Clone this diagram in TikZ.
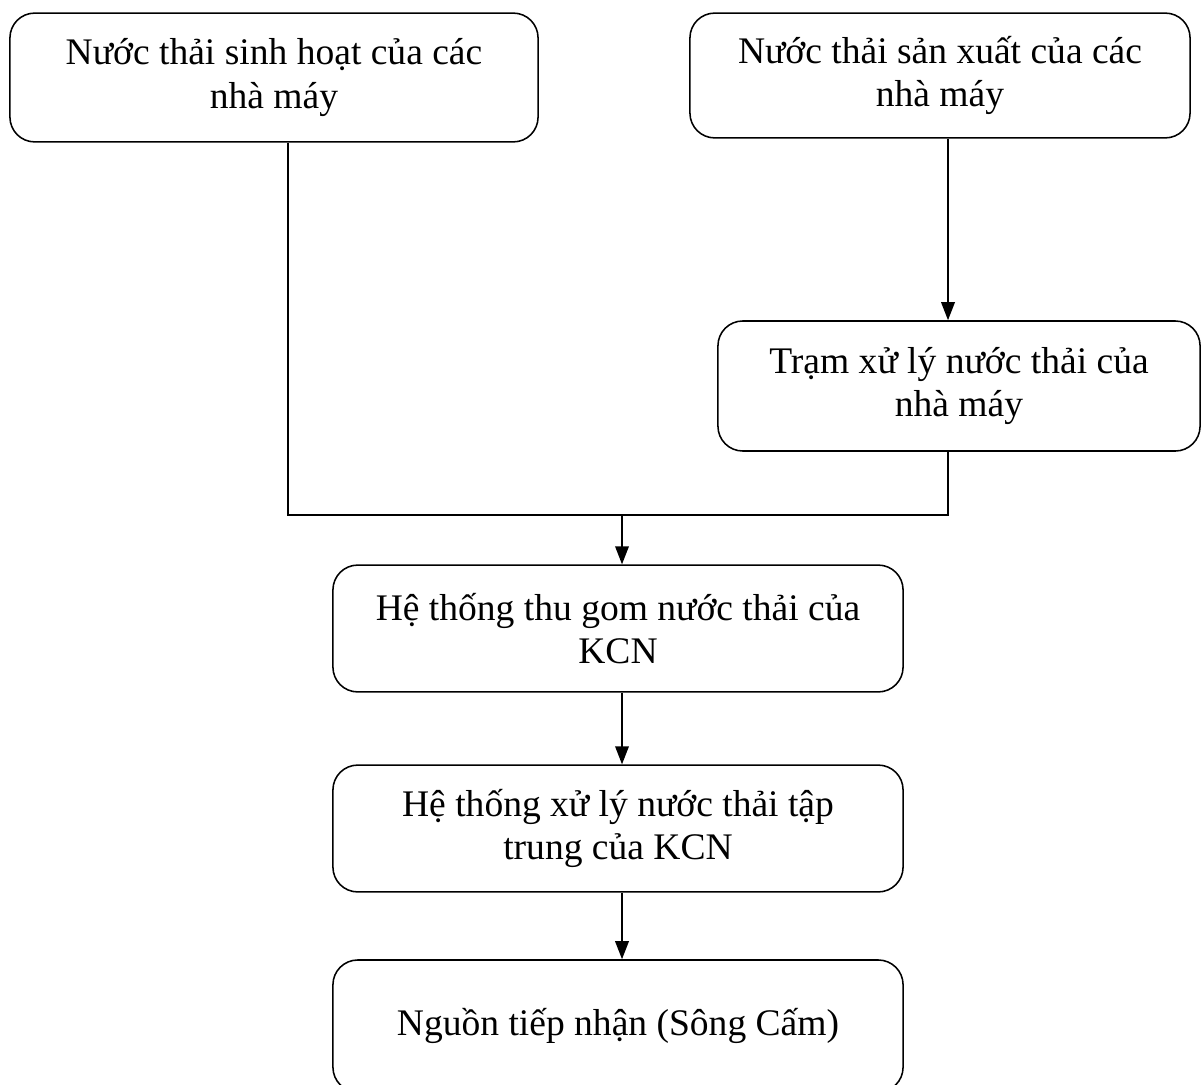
\documentclass[tikz,border=0pt]{standalone}
\usepackage{fontspec}
\setmainfont{Liberation Serif}
\usetikzlibrary{arrows.meta}

\tikzset{
  flowbox/.style={draw, rounded corners=0.62cm, align=center, line width=1.1pt,
    inner sep=0pt, font=\fontsize{26.7}{30.6}\selectfont},
  flowline/.style={line width=1.1pt},
  flowarrow/.style={flowline, -{Triangle[length=0.45cm,width=0.34cm]}}
}

\begin{document}
\begin{tikzpicture}[x=0.025cm,y=-0.025cm]
  \useasboundingbox (0,0) rectangle (1201,1084);
  % sources
  \node[flowbox, minimum width=13.2cm, minimum height=3.22cm] (sinhhoat) at (274,77.5)
    {Nước thải sinh hoạt của các\\nhà máy};
  \node[flowbox, minimum width=12.5cm, minimum height=3.12cm] (sanxuat) at (940,75.5)
    {Nước thải sản xuất của các\\nhà máy};
  \node[flowbox, minimum width=12.05cm, minimum height=3.25cm] (tram) at (959,386)
    {Trạm xử lý nước thải của\\nhà máy};
  % KCN
  \node[flowbox, minimum width=14.25cm, minimum height=3.17cm] (thugom) at (618,628.5)
    {Hệ thống thu gom nước thải của\\KCN};
  \node[flowbox, minimum width=14.25cm, minimum height=3.17cm] (xuly) at (618,828.5)
    {Hệ thống xử lý nước thải tập\\trung của KCN};
  \node[flowbox, minimum width=14.25cm, minimum height=3.3cm] (nguon) at (618,1026)
    {Nguồn tiếp nhận (Sông Cấm)};

  \coordinate (jleft) at (288,515);
  \coordinate (jmid) at (622,515);
  \coordinate (jright) at (948,515);

  \draw[flowarrow] (sanxuat.south -| jright) -- (tram.north -| jright);
  \draw[flowline] (sinhhoat.south -| jleft) -- (jleft) -- (jright) -- (tram.south -| jright);
  \draw[flowarrow] (jmid) -- (thugom.north -| jmid);
  \draw[flowarrow] (thugom.south -| jmid) -- (xuly.north -| jmid);
  \draw[flowarrow] (xuly.south -| jmid) -- (nguon.north -| jmid);
\end{tikzpicture}
\end{document}
